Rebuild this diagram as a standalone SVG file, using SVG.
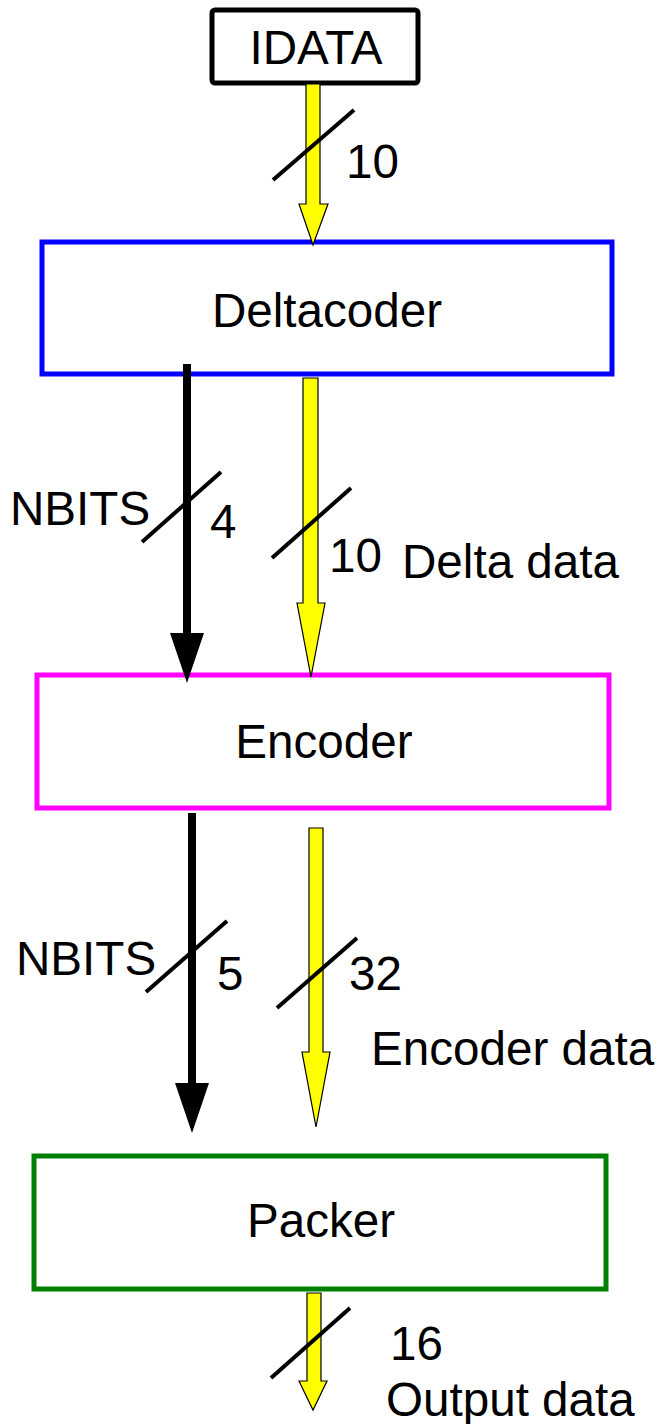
<svg xmlns="http://www.w3.org/2000/svg" width="658" height="1424" viewBox="0 0 658 1424">
<style>
text{font-family:"Liberation Sans",Arial,sans-serif;font-size:47.6px;fill:#000}
.box{fill:#fff;stroke-width:5}
.ya{fill:#ffff00;stroke:#000;stroke-width:1.2}
.sl{stroke:#000;stroke-width:4;fill:none}
.ba{fill:#000}
</style>
<rect width="658" height="1424" fill="#fff"/>
<g id="idata">
<rect x="212" y="10" width="206" height="73" rx="3" class="box" stroke="#000" stroke-width="7"/>
<text x="316" y="64" text-anchor="middle" font-size="45">IDATA</text>
</g>
<g id="deltacoder">
<rect x="42" y="242" width="570" height="132" class="box" stroke="#0000ff"/>
<text x="327" y="327" text-anchor="middle">Deltacoder</text>
</g>
<g id="encoder">
<rect x="37" y="675" width="572" height="133" class="box" stroke="#ff00ff"/>
<text x="324" y="758" text-anchor="middle">Encoder</text>
</g>
<g id="packer">
<rect x="34" y="1156" width="572" height="133" class="box" stroke="#008000"/>
<text x="321" y="1237" text-anchor="middle">Packer</text>
</g>
<g id="connectors">
<path class="ya" d="M306,84 H320 V204 H328 L313,245 L299,204 H306 Z"/>
<line class="sl" x1="273" y1="180" x2="354" y2="110"/>
<text x="346" y="178">10</text>

<path class="ba" d="M183,364 H191 V633 H204 L187,683 L170,633 H183 Z"/>
<line class="sl" x1="142" y1="542" x2="221" y2="472"/>
<text x="10" y="525">NBITS</text>
<text x="210" y="538">4</text>

<path class="ya" d="M303,378 H318 V603 H325 L311,677 L297,603 H303 Z"/>
<line class="sl" x1="272" y1="558" x2="351" y2="488"/>
<text x="329" y="572">10</text>
<text x="402" y="578">Delta data</text>

<path class="ba" d="M188,813 H196 V1083 H209 L192,1133 L175,1083 H188 Z"/>
<line class="sl" x1="146" y1="992" x2="227" y2="921"/>
<text x="16" y="975">NBITS</text>
<text x="217" y="990">5</text>

<path class="ya" d="M309,828 H323 V1052 H330 L316,1127 L302,1052 H309 Z"/>
<line class="sl" x1="277" y1="1008" x2="357" y2="938"/>
<text x="349" y="990">32</text>
<text x="371" y="1065">Encoder data</text>

<path class="ya" d="M307,1293 H321 V1381 H327 L313,1410 L299,1381 H307 Z"/>
<line class="sl" x1="271" y1="1378" x2="350" y2="1308"/>
<text x="390" y="1360">16</text>
<text x="386" y="1416">Output data</text>
</g>
</svg>
